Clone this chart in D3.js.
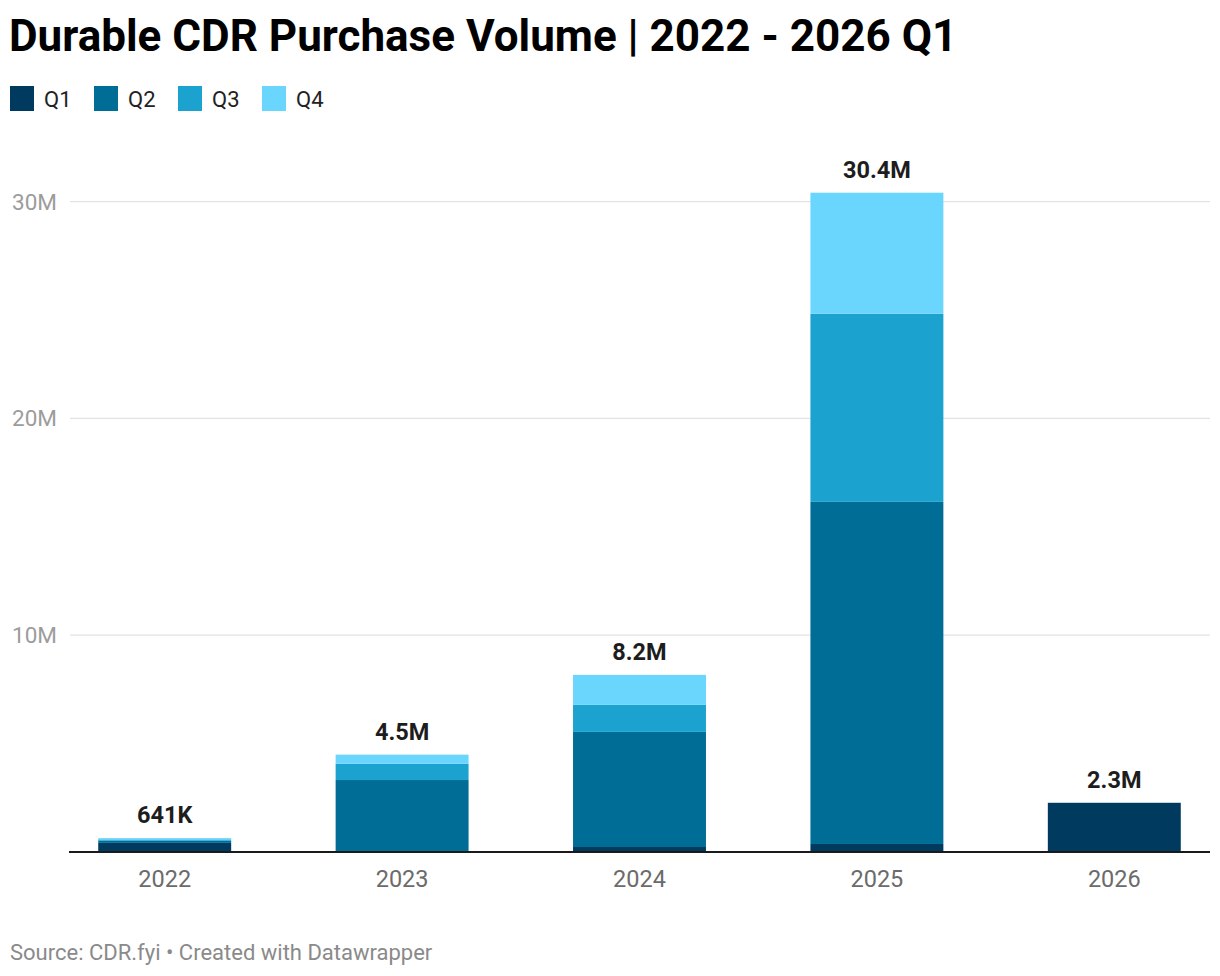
<!DOCTYPE html>
<html>
<head>
<meta charset="utf-8">
<script src="https://cdn.jsdelivr.net/npm/d3@7"></script>
<style>
  body { margin: 0; background: #fff; font-family: Roboto, 'Noto Sans', sans-serif; }
  svg text { font-family: Roboto, 'Noto Sans', sans-serif; }
</style>
</head>
<body>
<script>
// data
const years = ['2022', '2023', '2024', '2025', '2026'];
const quarters = ['Q1', 'Q2', 'Q3', 'Q4'];
const q1 = [0.42, 0.02, 0.23, 0.37, 2.27];
const q2 = [0.10, 3.30, 5.31, 15.78, 0];
const q3 = [0.06, 0.75, 1.25, 8.68, 0];
const q4 = [0.061, 0.42, 1.38, 5.58, 0];
const totalLabels = ['641K', '4.5M', '8.2M', '30.4M', '2.3M'];
const yTicks = [10, 20, 30];
const colors = ['#003b5f', '#006d96', '#1ba2cf', '#6ad6fe'];

const svgWidth = 1220;
const svgHeight = 976;

const margin = { top: 150, right: 10, bottom: 124, left: 70 };
const height = svgHeight - margin.top - margin.bottom; // baseline at 852

const svg = d3.select('body')
  .append('svg')
  .attr('width', svgWidth)
  .attr('height', svgHeight);

const rows = years.map((y, i) => ({ year: y, Q1: q1[i], Q2: q2[i], Q3: q3[i], Q4: q4[i], label: totalLabels[i] }));
const stacked = d3.stack().keys(quarters)(rows);

const x = d3.scaleBand()
  .domain(years)
  .range([46, 1233])
  .paddingInner(0.44)
  .paddingOuter(0.22);

const baseY = margin.top + height;
const y = d3.scaleLinear()
  .domain([0, 30])
  .range([baseY, baseY - 30 * 21.68]);

// title
svg.append('text')
  .attr('x', 9)
  .attr('y', 51)
  .attr('font-size', 44)
  .attr('font-weight', 700)
  .attr('fill', '#000')
  .text('Durable CDR Purchase Volume | 2022 - 2026 Q1');

// legend
const legend = svg.append('g').attr('transform', 'translate(10,86)');
quarters.forEach((q, i) => {
  const g = legend.append('g').attr('transform', `translate(${i * 84},0)`);
  g.append('rect').attr('width', 24).attr('height', 25).attr('fill', colors[i]);
  g.append('text')
    .attr('x', 34)
    .attr('y', 21)
    .attr('font-size', 22)
    .attr('fill', '#222')
    .text(q);
});

// grid + y labels
const grid = svg.append('g');
yTicks.forEach(t => {
  grid.append('line')
    .attr('x1', 70).attr('x2', 1210)
    .attr('y1', y(t)).attr('y2', y(t))
    .attr('stroke', '#e3e3e3')
    .attr('stroke-width', 1.3);
  grid.append('text')
    .attr('x', 57)
    .attr('y', y(t) + 8)
    .attr('text-anchor', 'end')
    .attr('font-size', 22.5)
    .attr('fill', '#9c9c9c')
    .text(t + 'M');
});

// bars
const layers = svg.append('g')
  .selectAll('g')
  .data(stacked)
  .join('g')
  .attr('fill', (d, i) => colors[i]);

layers.selectAll('rect')
  .data(d => d)
  .join('rect')
  .attr('x', d => x(d.data.year))
  .attr('width', x.bandwidth())
  .attr('y', d => y(d[1]))
  .attr('height', d => y(d[0]) - y(d[1]));

// totals
svg.append('g')
  .selectAll('text')
  .data(rows)
  .join('text')
  .attr('x', d => x(d.year) + x.bandwidth() / 2)
  .attr('y', d => y(d.Q1 + d.Q2 + d.Q3 + d.Q4) - 15)
  .attr('text-anchor', 'middle')
  .attr('font-size', 23.5)
  .attr('font-weight', 700)
  .attr('fill', '#1d1d1d')
  .text(d => d.label);

// baseline
svg.append('line')
  .attr('x1', 69).attr('x2', 1210)
  .attr('y1', baseY).attr('y2', baseY)
  .attr('stroke', '#1a1a1a')
  .attr('stroke-width', 2);

// x labels
svg.append('g')
  .selectAll('text')
  .data(years)
  .join('text')
  .attr('x', d => x(d) + x.bandwidth() / 2)
  .attr('y', baseY + 35)
  .attr('text-anchor', 'middle')
  .attr('font-size', 23.5)
  .attr('fill', '#6b6b6b')
  .text(d => d);

// footer
svg.append('text')
  .attr('x', 10)
  .attr('y', 960)
  .attr('font-size', 22)
  .attr('fill', '#8a8a8a')
  .text('Source: CDR.fyi \u2022 Created with Datawrapper');
</script>
</body>
</html>
